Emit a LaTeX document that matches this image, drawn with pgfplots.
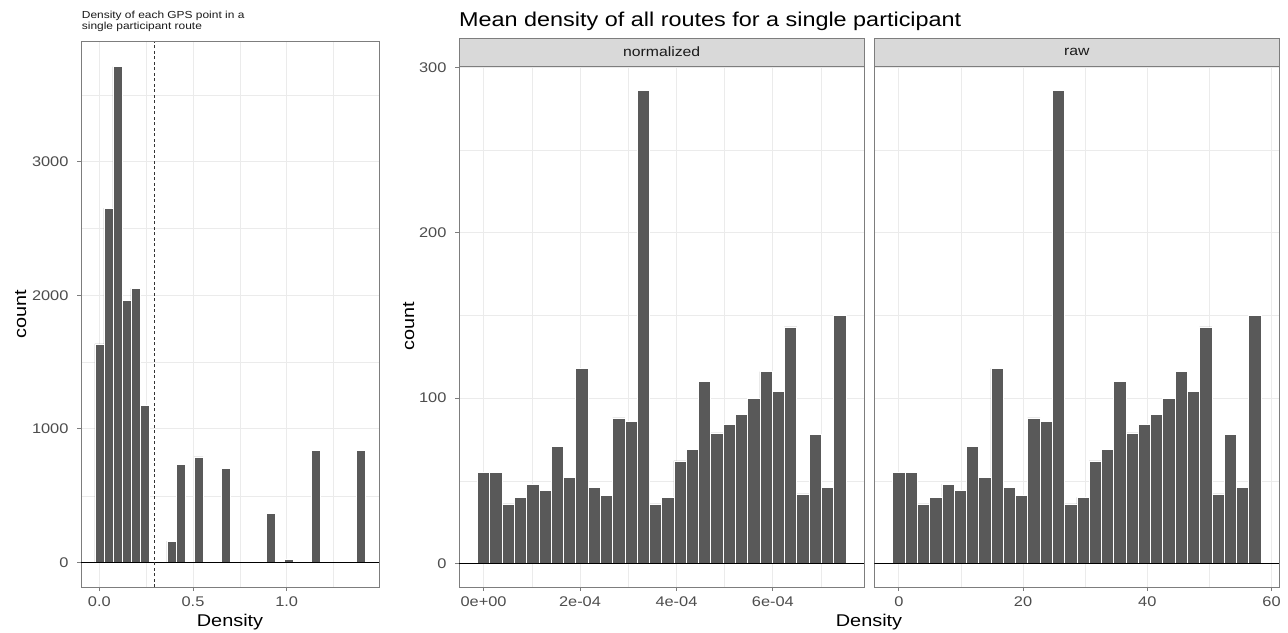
\documentclass[border=0pt]{standalone}
\usepackage{pgfplots}
\pgfplotsset{compat=1.18}
\usepackage{pgfplotstable}
\usepackage{fontspec}
\setmainfont{Liberation Sans}[FakeStretch=1.17]

\definecolor{barfill}{RGB}{89,89,89}
\definecolor{gridgray}{RGB}{235,235,235}
\definecolor{bordergray}{RGB}{125,125,125}
\definecolor{ticklab}{RGB}{77,77,77}
\definecolor{stripfill}{RGB}{217,217,217}
\definecolor{striptext}{RGB}{26,26,26}

% left histogram: bin centre, count
\pgfplotstableread{
x y
0.0000 1636
0.0481 2653
0.0963 3713
0.1444 1960
0.1926 2052
0.2407 1175
0.2888 0
0.3370 0
0.3851 160
0.4333 733
0.4814 0
0.5295 791
0.5777 0
0.6258 0
0.6740 705
0.7221 0
0.7702 0
0.8184 0
0.8665 0
0.9147 370
0.9628 0
1.0109 23
1.0591 0
1.1072 0
1.1554 837
1.2035 0
1.2516 0
1.2998 0
1.3479 0
1.3961 837
}\lefttab

% normalized (x in units of 1e-4)
\pgfplotstableread{
x y
0.0000 55
0.2547 55
0.5094 36
0.7641 40
1.0188 48
1.2735 44
1.5282 71
1.7829 52
2.0376 118
2.2923 46
2.5470 41
2.8017 88
3.0564 86
3.3111 286
3.5658 36
3.8205 40
4.0752 62
4.3299 69
4.5846 110
4.8393 79
5.0940 84
5.3487 90
5.6034 100
5.8581 116
6.1128 104
6.3675 143
6.6222 42
6.8769 78
7.1316 46
7.3863 150
}\normtab

% raw
\pgfplotstableread{
x y
0.000 55
1.976 55
3.952 36
5.928 40
7.904 48
9.880 44
11.856 71
13.832 52
15.808 118
17.784 46
19.760 41
21.736 88
23.712 86
25.688 286
27.664 36
29.640 40
31.616 62
33.592 69
35.568 110
37.544 79
39.520 84
41.496 90
43.472 100
45.448 116
47.424 104
49.400 143
51.376 42
53.352 78
55.328 46
57.304 150
}\rawtab

\pgfplotsset{
  panel/.style={
    scale only axis, anchor=south west,
    axis line style={draw=bordergray, line width=0.9pt},
    tick align=outside, tick pos=left, major tick length=4pt,
    tick style={draw=bordergray, line width=0.9pt},
    minor tick length=0pt,
    grid=both,
    major grid style={draw=gridgray, line width=0.9pt},
    minor grid style={draw=gridgray, line width=0.45pt},
    ticklabel style={font=\fontsize{14}{15}\selectfont, text=ticklab},
    xticklabel style={yshift=-2.5pt},
    yticklabel style={xshift=-5pt},
  },
  hist/.style={ybar, bar shift=0pt, fill=barfill, draw=white, line width=0.6pt},
}

\begin{document}
\begin{tikzpicture}[x=1pt,y=1pt]
\path[use as bounding box] (0,0) rectangle (1288,632);

% ---------- left panel ----------
\begin{axis}[panel, at={(81pt,44.9pt)}, width=298pt, height=545.3pt,
  xmin=-0.098, xmax=1.493, ymin=-184, ymax=3898,
  xtick={0,0.5,1}, xticklabels={0.0,0.5,1.0}, minor xtick={0.25,0.75,1.25},
  ytick={0,1000,2000,3000}, yticklabels={0,1000,2000,3000},
  minor ytick={500,1500,2500,3500}]
\addplot[hist, bar width=0.0481] table[x=x,y=y] {\lefttab};
\addplot[black, line width=0.8pt] coordinates {(-0.098,0) (1.493,0)};
\addplot[black!80, line width=1.1pt, dash pattern=on 3pt off 2.5pt] coordinates {(0.294,-184) (0.294,3898)};
\end{axis}

% ---------- middle panel ----------
\begin{axis}[panel, at={(459pt,44.9pt)}, width=405.3pt, height=521.1pt,
  xmin=-0.509, xmax=7.895, ymin=-14.3, ymax=300.8,
  xtick={0,2,4,6}, xticklabels={0e+00,2e-04,4e-04,6e-04}, minor xtick={1,3,5,7},
  ytick={0,100,200,300}, yticklabels={0,100,200,300},
  minor ytick={50,150,250}]
\addplot[hist, bar width=0.2547] table[x=x,y=y] {\normtab};
\addplot[black, line width=0.8pt] coordinates {(-0.509,0) (7.895,0)};
\end{axis}

% ---------- right panel ----------
\begin{axis}[panel, at={(874.3pt,44.9pt)}, width=405pt, height=521.1pt,
  xmin=-3.95, xmax=61.25, ymin=-14.3, ymax=300.8,
  xtick={0,20,40,60}, xticklabels={0,20,40,60}, minor xtick={10,30,50},
  ytick={0,100,200,300}, yticklabels={}, ytick style={draw=none},
  minor ytick={50,150,250}]
\addplot[hist, bar width=1.976] table[x=x,y=y] {\rawtab};
\addplot[black, line width=0.8pt] coordinates {(-3.95,0) (61.25,0)};
\end{axis}

% strips
\draw[fill=stripfill, draw=bordergray, line width=0.9pt] (459,566) rectangle (864.3,594);
\draw[fill=stripfill, draw=bordergray, line width=0.9pt] (874.3,566) rectangle (1279.3,594);
\node[font=\fontsize{13.5}{15}\selectfont, text=striptext] at (661.65,580) {normalized};
\node[font=\fontsize{13.5}{15}\selectfont, text=striptext] at (1076.8,580) {raw};

% titles
\node[anchor=base west, inner sep=0, font=\fontsize{20}{24}\selectfont] at (459,605.3) {Mean density of all routes for a single participant};
\node[anchor=base west, inner sep=0, font=\fontsize{10.2}{12}\selectfont, text=striptext] at (81.7,613) {Density of each GPS point in a};
\node[anchor=base west, inner sep=0, font=\fontsize{10.2}{12}\selectfont, text=striptext] at (81.7,602.7) {single participant route};

% axis titles
\node[anchor=base, inner sep=0, font=\fontsize{17}{20}\selectfont] at (230,5.5) {Density};
\node[anchor=base, inner sep=0, font=\fontsize{17}{20}\selectfont] at (869,5.5) {Density};
\node[rotate=90, anchor=base, inner sep=0, font=\fontsize{17}{20}\selectfont] at (26,317.5) {count};
\node[rotate=90, anchor=base, inner sep=0, font=\fontsize{17}{20}\selectfont] at (414,305.5) {count};
\end{tikzpicture}
\end{document}
